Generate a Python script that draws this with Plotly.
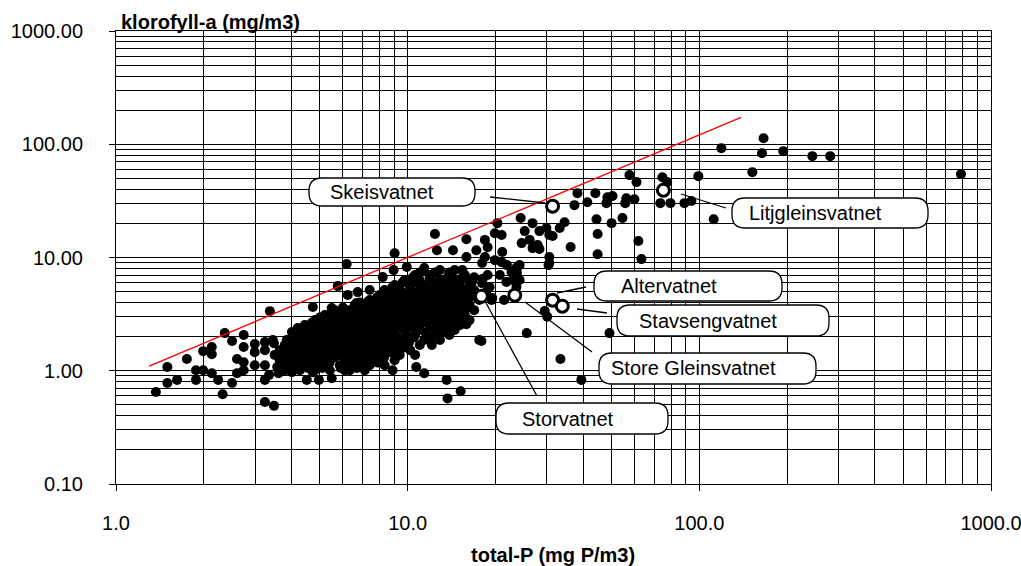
import plotly.graph_objects as go

# ---------------- data ----------------
X_TICKS = [1, 10, 100, 1000]
X_TICK_TEXT = ["1.0", "10.0", "100.0", "1000.0"]
Y_TICKS = [0.1, 1, 10, 100, 1000]
Y_TICK_TEXT = ["0.10", "1.00", "10.00", "100.00", "1000.00"]

X_TITLE = "total-P (mg P/m3)"
Y_TITLE = "klorofyll-a (mg/m3)"

LINE_TP = [1.30, 139]
LINE_CHLA = [1.10, 173]

LAKE_NAMES = ["Skeisvatnet", "Litjgleinsvatnet", "Altervatnet",
              "Stavsengvatnet", "Store Gleinsvatnet", "Storvatnet"]
LAKE_TP = [31.4, 75.3, 31.4, 33.9, 23.3, 17.9]
LAKE_CHLA = [28.4, 39.3, 4.2, 3.72, 4.65, 4.55]

# dense cluster, row by row (chl-a value, list of tot-P values)
CLUSTER_CHLA = [1.01, 1.12, 1.24, 1.38, 1.52, 1.69, 1.87, 2.07, 2.29, 2.53,
                2.80, 3.10, 3.43, 3.80, 4.21, 4.66, 5.16, 5.71, 6.32, 7.0, 7.74]
CLUSTER_TP = [
    [3.79, 4.27, 4.81, 5.41, 6.33, 7.13],
    [3.94, 4.44, 5.00, 5.85, 6.58, 7.41, 8.34],
    [3.64, 4.10, 4.62, 5.20, 6.09, 6.85, 7.71, 9.02],
    [3.79, 4.27, 4.81, 5.41, 5.85, 6.58, 7.41, 8.34, 9.39],
    [3.64, 4.10, 4.44, 5.00, 5.62, 6.33, 7.13, 8.02, 9.02, 10.2],
    [3.79, 4.27, 4.62, 5.20, 5.85, 6.58, 7.41, 8.34, 9.39, 11.0],
    [3.94, 4.44, 5.00, 5.62, 6.09, 6.85, 7.71, 8.68, 9.77, 11.4, 12.9],
    [4.10, 4.62, 5.20, 5.85, 6.58, 7.13, 8.02, 9.02, 10.6, 12.4, 13.9],
    [4.27, 4.81, 5.41, 6.33, 6.85, 7.71, 8.68, 9.77, 11.0, 12.9, 14.5],
    [4.44, 5.00, 5.62, 6.09, 6.85, 7.41, 8.34, 9.39, 10.6, 11.9, 13.4, 15.1],
    [4.81, 5.41, 5.85, 6.58, 7.13, 8.02, 9.02, 10.2, 11.4, 12.9, 14.5, 16.3],
    [5.20, 5.85, 6.33, 7.13, 7.71, 8.68, 9.77, 11.0, 12.4, 13.9, 15.7],
    [5.62, 6.33, 6.85, 7.41, 8.34, 9.39, 10.6, 11.9, 13.4, 15.1, 16.9],
    [6.58, 7.13, 8.02, 9.02, 10.2, 11.4, 12.9, 14.5, 16.3],
    [7.41, 8.34, 9.39, 10.6, 11.9, 13.4, 15.1, 17.6],
    [8.02, 9.02, 10.2, 11.4, 12.9, 14.5, 16.3],
    [8.34, 9.39, 11.0, 12.4, 13.9, 15.7],
    [9.02, 10.2, 11.4, 13.4, 15.1],
    [9.77, 11.0, 12.9, 14.5, 16.3],
    [10.6, 11.9, 13.9, 15.7],
    [11.4, 12.9, 14.5],
]
# second, staggered set of rows inside the solid part of the cluster
CLUSTER2_CHLA = [1.06, 1.18, 1.31, 1.45, 1.60, 1.78, 1.97, 2.18, 2.41, 2.66,
                 2.95, 3.26, 3.61, 4.0, 4.43, 4.9, 5.43, 6.0, 6.65, 7.37]
CLUSTER2_TP = [
    [4.05, 4.55, 5.1, 5.9, 6.7],
    [3.8, 4.2, 4.7, 5.4, 6.2, 6.95, 7.9],
    [3.9, 4.35, 4.9, 5.6, 6.45, 7.3, 8.3],
    [3.7, 4.0, 4.55, 5.1, 5.6, 6.2, 6.95, 7.85, 8.8],
    [3.9, 4.25, 4.7, 5.3, 5.95, 6.7, 7.55, 8.5, 9.6],
    [4.0, 4.45, 4.9, 5.5, 6.2, 6.95, 7.85, 8.85, 10.1],
    [4.2, 4.7, 5.3, 5.85, 6.45, 7.25, 8.2, 9.2, 10.5, 12.1],
    [4.4, 4.9, 5.5, 6.2, 6.85, 7.55, 8.5, 9.8, 11.5, 13.1],
    [4.55, 5.1, 5.85, 6.6, 7.3, 8.2, 9.2, 10.4, 11.9, 13.7],
    [4.7, 5.3, 5.85, 6.45, 7.1, 7.85, 8.85, 10.0, 11.2, 12.6, 14.2],
    [5.0, 5.6, 6.2, 6.85, 7.55, 8.5, 9.6, 10.8, 12.1, 13.7, 15.4],
    [5.5, 6.1, 6.7, 7.4, 8.2, 9.2, 10.4, 11.7, 13.1, 14.8],
    [6.0, 6.6, 7.1, 7.85, 8.85, 10.0, 11.2, 12.6, 14.3, 16.0],
    [6.85, 7.55, 8.5, 9.6, 10.8, 12.1, 13.7, 15.4],
    [7.85, 8.85, 10.0, 11.2, 12.6, 14.3, 16.3],
    [8.5, 9.6, 10.8, 12.1, 13.7, 15.4],
    [8.85, 10.2, 11.7, 13.1, 14.8],
    [9.6, 10.8, 12.4, 14.3],
    [10.4, 11.9, 13.7, 15.4],
    [11.0, 12.4, 13.9],
]

# scattered lakes (tot-P, chl-a)
POINTS_LOW = [
    (1.37, 0.65), (1.50, 0.78), (1.50, 1.08), (1.62, 0.83), (1.75, 1.27),
    (1.88, 1.01), (1.88, 0.83), (1.99, 1.49), (1.99, 1.01), (2.13, 1.62),
    (2.13, 1.40), (2.13, 0.95), (2.24, 0.83), (2.32, 0.62), (2.36, 2.15),
    (2.50, 1.83), (2.50, 0.78), (2.74, 2.07), (2.74, 1.62), (2.60, 1.27),
    (2.60, 0.95), (2.74, 1.19), (2.74, 1.01), (2.99, 1.72), (2.99, 1.46),
    (2.99, 1.12), (3.24, 1.79), (3.24, 1.52), (3.24, 1.12), (3.24, 0.83),
    (3.24, 0.53), (3.48, 0.49), (3.48, 1.75), (3.37, 3.36), (3.61, 0.95),
    (3.64, 1.43), (4.01, 2.20), (3.94, 1.62), (4.01, 0.97), (4.51, 0.83),
    (4.73, 3.65), (4.96, 0.83), (3.35, 0.92), (3.57, 1.08), (4.37, 1.12),
    (3.45, 1.87), (3.50, 1.38), (3.85, 1.87), (4.20, 2.38), (4.73, 2.64),
    (4.73, 0.97),
]
POINTS_MID = [
    (5.49, 0.86), (5.76, 5.59), (6.18, 8.75), (6.09, 1.01), (7.01, 1.12),
    (8.88, 1.01), (9.02, 10.9), (8.21, 6.71), (10.6, 1.38), (10.7, 1.08),
    (11.4, 0.95), (13.6, 0.83), (13.7, 0.57), (15.2, 0.66), (12.4, 16.1),
    (12.6, 11.6), (10.2, 1.98), (9.77, 2.43), (12.6, 2.29), (11.7, 1.98),
    (12.1, 1.69), (6.23, 4.66), (6.74, 4.95), (7.41, 5.16), (6.68, 3.96),
    (7.28, 4.04), (7.83, 3.96), (5.94, 3.43), (5.49, 3.58), (5.12, 1.12),
    (7.41, 1.43), (15.9, 14.5), (17.2, 11.6), (14.3, 11.6), (9.93, 8.23),
    (11.4, 8.06), (8.95, 7.74), (15.9, 10.1), (15.4, 7.74), (16.3, 5.71),
    (15.1, 4.66), (17.2, 4.47), (15.9, 2.58), (13.9, 3.10), (12.6, 2.33),
    (7.59, 1.62), (7.52, 1.43), (7.90, 1.98), (8.81, 2.07), (9.30, 2.38),
    (9.53, 1.79), (17.6, 1.87), (17.9, 1.83), (16.6, 6.07), (18.1, 6.5),
    (13.6, 4.21), (15.4, 4.8),
]
POINTS_HIGH = [
    (24.4, 22.3), (26.8, 20.1), (25.2, 17.1), (28.3, 17.1), (29.9, 18.2),
    (30.6, 15.8), (24.6, 13.4), (26.2, 14.3), (26.8, 12.1), (27.9, 12.9),
    (30.6, 10.1), (30.6, 8.93), (20.3, 20.1), (19.9, 16.4), (21.0, 15.8),
    (18.4, 14.3), (18.8, 12.3), (21.1, 11.2), (18.4, 10.1), (19.9, 9.48),
    (18.0, 8.93), (21.0, 9.1), (21.9, 8.57), (24.2, 8.57), (22.7, 7.43),
    (23.7, 7.3), (22.9, 6.32), (24.2, 6.32), (23.6, 5.48), (18.8, 7.0),
    (16.9, 6.7), (18.0, 5.94), (19.1, 5.48), (16.9, 5.16), (18.6, 4.95),
    (19.5, 4.38), (21.4, 4.21), (20.7, 7.0), (29.5, 3.37), (30.1, 3.0),
    (25.6, 2.15), (33.4, 1.27), (49.2, 2.15), (39.4, 0.83), (23.6, 8.1),
    (21.8, 6.07), (19.4, 4.21),
]
POINTS_TOP = [
    (57.6, 53.4), (60.9, 46.3), (74.7, 51.2), (77.6, 46.3), (99.2, 52.3),
    (38.2, 37.0), (44.0, 37.0), (41.3, 30.8), (37.3, 29.0), (48.4, 34.1),
    (50.4, 34.9), (48.0, 30.2), (56.2, 33.4), (59.9, 32.7), (55.7, 30.2),
    (73.5, 30.2), (79.6, 30.2), (88.9, 30.2), (93.9, 31.5), (112, 21.8),
    (44.4, 21.8), (50.0, 20.1), (54.5, 22.3), (34.5, 20.5), (33.2, 18.2),
    (31.4, 15.5), (44.8, 16.1), (36.2, 12.4), (28.3, 11.9), (61.8, 14.0),
    (44.8, 10.7), (63.3, 9.68), (30.4, 8.57), (119, 92.4), (166, 113),
    (164, 83.4), (194, 86.9), (244, 78.5), (281, 78.5), (152, 56.7),
    (789, 54.5),
]

# ---------------- layout geometry (pixels) ----------------
W, H = 1021, 566
PL, PR, PT, PB = 116, 991, 31, 484
FONT = "Liberation Sans, Arial, sans-serif"

# label boxes: left, top, right, bottom, text start x, leader line (x0, y0, x1, y1)
LABEL_GEOM = [
    (309, 178, 475, 206, 328, (490, 197, 545, 203)),
    (732, 198, 928, 228, 747, (681, 194, 726, 208)),
    (594, 271, 782, 301, 619, (586, 287, 557, 293)),
    (617, 305, 829, 336, 637, (607, 313, 577, 309)),
    (599, 353, 816, 384, 609, (592, 352, 525, 302)),
    (496, 403, 668, 434, 520, (537, 396, 486, 303)),
]


def px(xp):
    return (xp - PL) / (PR - PL)


def py(yp):
    return (PB - yp) / (PB - PT)


def rounded_box(x0, y0, x1, y1, r=13):
    r = min(r, (y1 - y0) / 2)
    pts = [
        ("M", x0 + r, y0), ("L", x1 - r, y0), ("Q", x1, y0, x1, y0 + r),
        ("L", x1, y1 - r), ("Q", x1, y1, x1 - r, y1), ("L", x0 + r, y1),
        ("Q", x0, y1, x0, y1 - r), ("L", x0, y0 + r), ("Q", x0, y0, x0 + r, y0),
    ]
    s = ""
    for p in pts:
        cmd = p[0]
        coords = p[1:]
        parts = []
        for i in range(0, len(coords), 2):
            parts.append(f"{px(coords[i]):.5f},{py(coords[i + 1]):.5f}")
        s += cmd + " ".join(parts) + " "
    return s + "Z"


tp_all, chla_all = [], []
for rows_c, rows_t in ((CLUSTER_CHLA, CLUSTER_TP), (CLUSTER2_CHLA, CLUSTER2_TP)):
    for c, row in zip(rows_c, rows_t):
        for t in row:
            tp_all.append(t)
            chla_all.append(c)
for group in (POINTS_LOW, POINTS_MID, POINTS_HIGH, POINTS_TOP):
    for t, c in group:
        tp_all.append(t)
        chla_all.append(c)

fig = go.Figure()
fig.add_trace(go.Scatter(
    x=tp_all, y=chla_all, mode="markers",
    marker=dict(size=10, color="black", line=dict(width=0)),
    showlegend=False, hoverinfo="skip"))
fig.add_trace(go.Scatter(
    x=LINE_TP, y=LINE_CHLA, mode="lines",
    line=dict(color="#ff0000", width=1.3), showlegend=False))
fig.add_trace(go.Scatter(
    x=LAKE_TP, y=LAKE_CHLA, mode="markers", text=LAKE_NAMES,
    marker=dict(size=12, color="white", line=dict(color="black", width=3)),
    showlegend=False))

shapes = []
annotations = []
for name, (x0, y0, x1, y1, tx, ln) in zip(LAKE_NAMES, LABEL_GEOM):
    shapes.append(dict(type="line", xref="paper", yref="paper",
                       x0=px(ln[0]), y0=py(ln[1]), x1=px(ln[2]), y1=py(ln[3]),
                       line=dict(color="black", width=1.3), layer="above"))
    shapes.append(dict(type="path", xref="paper", yref="paper",
                       path=rounded_box(x0, y0, x1, y1),
                       fillcolor="white", line=dict(color="black", width=1.3),
                       layer="above"))
    annotations.append(dict(xref="paper", yref="paper", x=px(tx), y=py((y0 + y1) / 2),
                            xanchor="left", yanchor="middle", text=name, showarrow=False,
                            font=dict(family=FONT, size=20, color="black")))

annotations.append(dict(xref="paper", yref="paper", x=px(119), y=py(22),
                        xanchor="left", yanchor="middle", text=f"<b>{Y_TITLE}</b>",
                        showarrow=False, font=dict(family=FONT, size=20, color="black")))
annotations.append(dict(xref="paper", yref="paper", x=px(553), y=py(555),
                        xanchor="center", yanchor="middle", text=f"<b>{X_TITLE}</b>",
                        showarrow=False, font=dict(family=FONT, size=20, color="black")))

axis_common = dict(
    showgrid=True, gridcolor="black", gridwidth=1,
    showline=True, linecolor="black", linewidth=1, mirror=True,
    ticks="outside", ticklen=6, tickcolor="black", tickwidth=1,
    tickfont=dict(family=FONT, size=20, color="black"),
    zeroline=False, automargin=False, ticklabeloverflow="allow",
    minor=dict(dtick="D1", showgrid=True, gridcolor="black", gridwidth=1, ticks=""),
)

fig.update_layout(
    width=W, height=H,
    margin=dict(l=PL, r=W - PR, t=PT, b=H - PB, autoexpand=False),
    paper_bgcolor="white", plot_bgcolor="white",
    xaxis=dict(type="log", range=[0, 3], tickvals=X_TICKS, ticktext=X_TICK_TEXT,
               ticklabelstandoff=15, **axis_common),
    yaxis=dict(type="log", range=[-1, 3], tickvals=Y_TICKS, ticktext=Y_TICK_TEXT,
               ticklabelstandoff=22, **axis_common),
    shapes=shapes, annotations=annotations,
    font=dict(family=FONT),
)

fig.write_html("out.html", config={"displayModeBar": False},
               post_script="document.body.style.margin='0';document.body.style.overflow='hidden';")
